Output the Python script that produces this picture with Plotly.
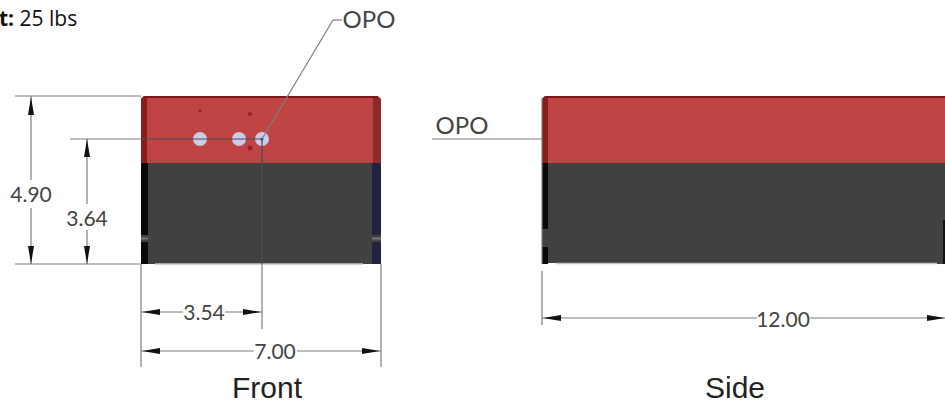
import plotly.graph_objects as go

# Drawing geometry (pixel units of the sheet)
red_front = ([141, 141, 144, 378, 381, 381], [163, 99, 96, 96, 99, 163])
dark_front = ([141, 381, 381, 141], [163, 163, 264, 264])
red_side = ([542, 542, 545, 945, 945], [163, 99, 96, 96, 163])
dark_side = ([542, 945, 945, 937, 937, 542], [163, 163, 264, 264, 263, 263])
top_edge_front = ([144, 378], [97, 97])
top_edge_side = ([545, 945], [97, 97])
strip_red_l_f = ([141, 141, 144, 147, 147], [163, 99, 96, 98, 163])
strip_red_r_f = ([373, 373, 378, 381, 381], [163, 98, 97, 99, 163])
strip_red_l_s = ([542, 542, 545, 548, 548], [163, 99, 96, 98, 163])
strip_blk_l_f_a = ([141, 148, 148, 141], [163, 163, 235, 235])
strip_blk_l_f_b = ([141, 148, 148, 141], [242, 242, 264, 264])
strip_blu_r_f_a = ([372, 381, 381, 372], [163, 163, 235, 235])
strip_blu_r_f_b = ([372, 381, 381, 372], [242, 242, 264, 264])
strip_blk_l_s_a = ([542, 548, 548, 542], [163, 163, 229, 229])
strip_blk_l_s_b = ([542, 548, 548, 542], [247, 247, 264, 264])
strip_blk_r_s = ([943, 945, 945, 943], [220, 220, 264, 264])
notch_segments = [([141, 148], [238.5, 238.5]), ([372, 381], [238.5, 238.5])]
bottom_highlights = [([155, 363], [264, 264]), ([556, 937], [263.5, 263.5])]

hole_x = [200, 239, 262]
hole_y = [139, 139, 139]
pin_x = [200, 250, 250, 262]
pin_y = [111, 114, 148, 139]
pin_size = [3, 4, 5, 3]

body_segments = [
    ([141, 262], [139, 139]),
    ([262, 262], [139, 264]),
]
dim_segments = [
    ([15, 141], [96, 96]),
    ([15, 141], [264, 264]),
    ([70, 141], [139, 139]),
    ([31, 31], [96, 180]),
    ([31, 31], [208, 264]),
    ([87, 87], [139, 204]),
    ([87, 87], [230, 264]),
    ([262, 262], [264, 329]),
    ([141, 141], [264, 367]),
    ([381, 381], [264, 367]),
    ([141, 183], [312, 312]),
    ([225, 262], [312, 312]),
    ([141, 254], [351, 351]),
    ([297, 381], [351, 351]),
    ([542, 542], [98, 264]),
    ([542, 542], [271, 325]),
    ([432, 542], [139, 139]),
    ([542, 757], [318, 318]),
    ([810, 945], [318, 318]),
    ([333, 342], [20, 20]),
    ([333, 262], [20, 139]),
]

# arrow: tip x, tip y, direction x, direction y
arrow_tips = [
    (31, 97, 0, 1), (31, 264, 0, -1),
    (87, 139, 0, 1), (87, 264, 0, -1),
    (142, 312, 1, 0), (261, 312, -1, 0),
    (142, 351, 1, 0), (380, 351, -1, 0),
    (543, 318, 1, 0), (945, 318, -1, 0),
]

labels = ["4.90", "3.64", "3.54", "7.00", "12.00"]
label_x = [31, 87, 204, 275, 783]
label_y = [197, 221, 315, 354, 322]
opo_labels = ["OPO", "OPO"]
opo_x = [369, 462]
opo_y = [22, 128]
view_labels = ["Front", "Side"]
view_x = [267, 735]
view_y = [390, 390]
weight_text = "<b>t:</b> 25 lbs"

fig = go.Figure()


def poly(pts, color):
    fig.add_trace(go.Scatter(x=pts[0] + pts[0][:1], y=pts[1] + pts[1][:1], mode="lines",
                             fill="toself", fillcolor=color, line=dict(width=0),
                             hoverinfo="skip", showlegend=False))


def seg_line(seg, color, width):
    fig.add_trace(go.Scatter(x=seg[0], y=seg[1], mode="lines", line=dict(color=color, width=width),
                             hoverinfo="skip", showlegend=False))


RED = "#bf4444"
DARK = "#414141"
for p, c in [
    (red_front, RED), (dark_front, DARK), (red_side, RED), (dark_side, DARK),
    (strip_red_l_f, "#8a1c1c"), (strip_red_r_f, "#8f2a2a"), (strip_red_l_s, "#8a1c1c"),
    (strip_blk_l_f_a, "#0a0a0a"), (strip_blk_l_f_b, "#0a0a0a"),
    (strip_blu_r_f_a, "#23233f"), (strip_blu_r_f_b, "#23233f"),
    (strip_blk_l_s_a, "#0a0a0a"), (strip_blk_l_s_b, "#0a0a0a"),
    (strip_blk_r_s, "#111111"),
]:
    poly(p, c)

for seg in (top_edge_front, top_edge_side):
    seg_line(seg, "#7c1818", 2)
for seg in notch_segments:
    seg_line(seg, "#777777", 2)
for seg in bottom_highlights:
    seg_line(seg, "#c4c4c4", 1.5)

fig.add_trace(go.Scatter(x=hole_x, y=hole_y, mode="markers",
                         marker=dict(size=14, color="#c9cce8", line=dict(width=0)),
                         hoverinfo="skip", showlegend=False))
for seg in body_segments:
    seg_line(seg, "#4a4a55", 1.2)
fig.add_trace(go.Scatter(x=pin_x, y=pin_y, mode="markers",
                         marker=dict(size=pin_size, color=["#8a1212", "#8a1212", "#8a1212", "#20203a"],
                                     line=dict(width=0)),
                         hoverinfo="skip", showlegend=False))

for seg in dim_segments:
    seg_line(seg, "#7d7d7d", 1.2)

ARROW_LEN, ARROW_HALF = 18, 3
for tx, ty, dx, dy in arrow_tips:
    bx, by = tx + dx * ARROW_LEN, ty + dy * ARROW_LEN
    poly(([tx, bx - dy * ARROW_HALF, bx + dy * ARROW_HALF],
          [ty, by - dx * ARROW_HALF, by + dx * ARROW_HALF]), "#111111")

fig.add_trace(go.Scatter(x=label_x, y=label_y, mode="text", text=labels, textposition="middle center",
                         textfont=dict(family="Lato", size=21, color="#444444"),
                         hoverinfo="skip", showlegend=False))
fig.add_trace(go.Scatter(x=opo_x, y=opo_y, mode="text", text=opo_labels, textposition="middle center",
                         textfont=dict(family="Lato", size=24, color="#444444"),
                         hoverinfo="skip", showlegend=False))
fig.add_trace(go.Scatter(x=view_x, y=view_y, mode="text", text=view_labels, textposition="middle center",
                         textfont=dict(family="Liberation Sans", size=30, color="#222222"),
                         hoverinfo="skip", showlegend=False))
fig.add_annotation(x=0, y=18, xshift=-3, text=weight_text, showarrow=False, xanchor="left", yanchor="middle",
                   font=dict(family="Open Sans", size=21, color="#111111"))

fig.update_layout(
    width=945, height=402, margin=dict(l=0, r=0, t=0, b=0),
    paper_bgcolor="white", plot_bgcolor="white", showlegend=False,
    xaxis=dict(range=[0, 945], visible=False, fixedrange=True),
    yaxis=dict(range=[402, 0], visible=False, fixedrange=True),
)
fig.write_html("out.html", config=dict(displayModeBar=False),
               post_script="document.body.style.margin='0';document.body.style.overflow='hidden';")
